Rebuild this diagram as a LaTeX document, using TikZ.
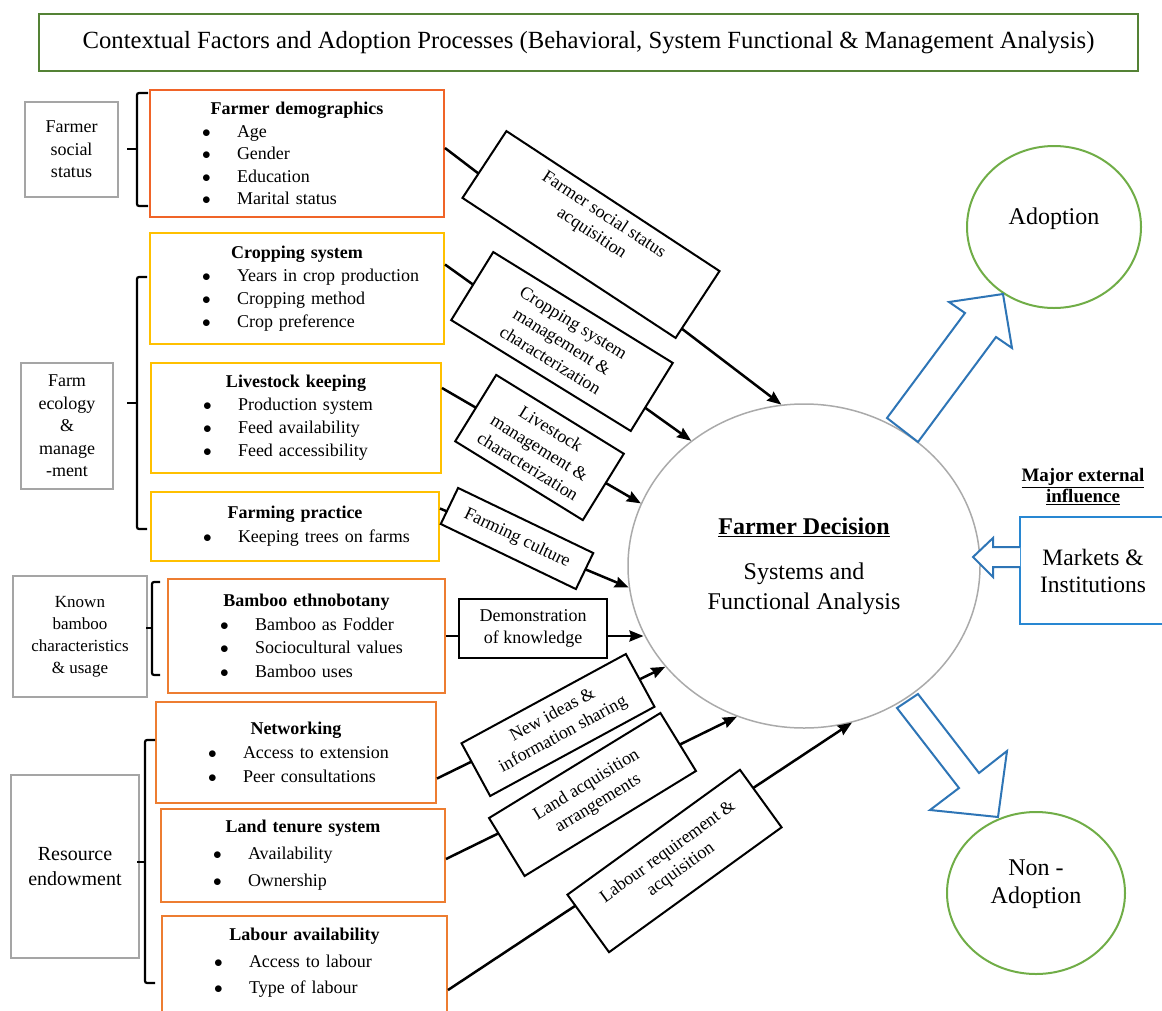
\documentclass[tikz,border=0pt]{standalone}
\usepackage{fontspec}
\setmainfont{Liberation Serif}
\usetikzlibrary{arrows.meta}
\usetikzlibrary{calc}
\usetikzlibrary{shapes.geometric}

\definecolor{titlegreen}{RGB}{84,130,53}
\definecolor{circgreen}{RGB}{112,173,71}
\definecolor{redorange}{RGB}{240,100,40}
\definecolor{boxorange}{RGB}{237,125,49}
\definecolor{boxgold}{RGB}{255,192,0}
\definecolor{catgray}{RGB}{165,165,165}
\definecolor{decgray}{RGB}{170,170,170}
\definecolor{arrowblue}{RGB}{46,117,182}
\definecolor{mktblue}{RGB}{40,135,210}

\newcommand{\ftitle}[1]{{\noindent\centering\bfseries #1\par}}
\newcommand{\fitem}[1]{\noindent\hspace*{52pt}\makebox[35pt][l]{$\bullet$}#1\par}

\begin{document}
\begin{tikzpicture}[x=1pt,y=-1pt,
 cat/.style={draw=catgray, line width=1.5pt, align=center, inner sep=0pt, font=\fontsize{18}{22.5}\selectfont},
 fac/.style={draw=#1, line width=2pt, inner xsep=0pt, inner ysep=6pt, font=\fontsize{18}{22.5}\selectfont},
 lbl/.style={draw, fill=white, line width=2pt, align=center, inner sep=0pt, font=\fontsize{18}{22}\selectfont},
 outc/.style={ellipse, draw=circgreen, line width=2pt, align=center, inner sep=0pt, font=\fontsize{24}{28}\selectfont},
 link/.style={line width=2.5pt, -{Stealth[length=14pt,width=11pt,inset=1.5pt]}},
 hollow/.style={draw=arrowblue, fill=white, line width=2pt, line join=miter},
 brk/.style={line width=2.2pt, rounded corners=2pt}]
\useasboundingbox (0,0) rectangle (1162,1010);
\clip (0,0) rectangle (1162,1010);

\node[draw=titlegreen, line width=2pt, minimum width=1099, minimum height=57, font=\fontsize{24.7}{28}\selectfont] (ttl) at (588.5,42.5) {Contextual Factors and Adoption Processes (Behavioral, System Functional \& Management Analysis)};

\node[cat, minimum width=93, minimum height=95] (fss) at (71.5,149.5) {Farmer\\social\\status};
\node[cat, minimum width=92, minimum height=126] (fem) at (67,426) {Farm\\ecology\\\&\\manage\\-ment};
\node[cat, minimum width=134, minimum height=121, font=\fontsize{17}{22}\selectfont] (kbc) at (80,636.5) {Known\\bamboo\\characteristics\\\& usage};
\node[cat, minimum width=128, minimum height=183, font=\fontsize{20}{25}\selectfont] (res) at (75,866.5) {Resource\\endowment};

\node[fac=redorange, text width=294pt, minimum height=127] (fd) at (297,153.5) {\ftitle{Farmer demographics}\fitem{Age}\fitem{Gender}\fitem{Education}\fitem{Marital status}};
\node[fac=boxgold, text width=294pt, minimum height=111, font=\fontsize{18}{23}\selectfont] (crop) at (297,288.5) {\ftitle{Cropping system}\fitem{Years in crop production}\fitem{Cropping method}\fitem{Crop preference}};
\node[fac=boxgold, text width=290pt, minimum height=110, font=\fontsize{18}{23}\selectfont] (live) at (296,418) {\ftitle{Livestock keeping}\fitem{Production system}\fitem{Feed availability}\fitem{Feed accessibility}};
\node[fac=boxgold, text width=288pt, minimum height=69, font=\fontsize{18}{24}\selectfont] (prac) at (295,526.5) {\ftitle{Farming practice}\fitem{Keeping trees on farms}};
\node[fac=boxorange, text width=277pt, minimum height=114, font=\fontsize{18}{23.5}\selectfont] (bam) at (306.5,636) {\ftitle{Bamboo ethnobotany}\fitem{Bamboo as Fodder}\fitem{Sociocultural values}\fitem{Bamboo uses}};
\node[fac=boxorange, text width=280pt, minimum height=101, font=\fontsize{18}{24}\selectfont] (net) at (296,752.5) {\ftitle{Networking}\fitem{Access to extension}\fitem{Peer consultations}};
\node[fac=boxorange, text width=284pt, minimum height=93, font=\fontsize{18}{27}\selectfont] (land) at (303,855.5) {\ftitle{Land tenure system}\fitem{Availability}\fitem{Ownership}};
\node[fac=boxorange, text width=285pt, anchor=north, inner ysep=12pt, font=\fontsize{18}{26.5}\selectfont] (lab) at (304.5,915) {\ftitle{Labour availability}\fitem{Access to labour}\fitem{Type of labour\rule[-40pt]{0pt}{40pt}}};

\node[ellipse, draw=decgray, line width=1.5pt, minimum width=352, minimum height=324, inner sep=0pt, align=center, font=\fontsize{24}{30}\selectfont] (dec) at (804,566) {\underline{\textbf{Farmer Decision}}\\[15pt]Systems and\\Functional Analysis};
\node[outc, minimum width=174, minimum height=162] (adopt) at (1054,227) {Adoption\\[-6pt]};
\node[outc, minimum width=178, minimum height=162] (nonad) at (1036,893) {Non -\\Adoption\\[-5pt]};
\node[draw=mktblue, line width=2pt, minimum width=146, minimum height=107, align=center, font=\fontsize{23.5}{27}\selectfont] (mkt) at (1093,570.5) {Markets \&\\Institutions};
\node[align=center, font=\fontsize{19}{21}\selectfont\bfseries] (ext) at (1083,487) {\underline{Major external}\\\underline{influence}};

\foreach \x/\t/\b/\m/\a/\n in {137/93/206/149/148/127, 137/277/529/403/147/127, 152/582/675/628/160/146, 145/740/983/862/155/137} {
 \draw[brk] (\a,\t) -- (\x,\t) -- (\x,\b) -- (\a,\b);
 \draw[brk] (\x,\m) -- (\n,\m);
}

\draw[link] ([yshift=5.5pt]fd.east) -- (dec.98);
\draw[link] ([yshift=24pt]crop.east) -- (dec.132);
\draw[link] ([yshift=30pt]live.east) -- (dec.159);
\draw[link] ([yshift=18pt]prac.east) -- (dec.187);
\draw[link] (bam.east) -- (bam.east -| dec.203);
\draw[link] ([yshift=-26pt]net.east) -- (dec.216);
\draw[link] ([yshift=-3.5pt]land.east) -- (dec.246);
\draw[link] ([yshift=-75pt]lab.north east) -- (dec.287);

\node[lbl, rotate=-33.3, minimum width=255, minimum height=80] (l1) at (591,234.5) {Farmer social status\\acquisition\\[6pt]};
\node[lbl, rotate=-31.7, minimum width=211, minimum height=80] (l2) at (562,341.5) {Cropping system\\management \&\\characterization};
\node[lbl, rotate=-31.7, minimum width=150, minimum height=78] (l3) at (539.5,447.5) {Livestock\\management \&\\characterization};
\node[lbl, rotate=-25.7, minimum width=150, minimum height=40] (l4) at (517,538.5) {Farming culture};
\node[lbl, minimum width=148, minimum height=59] (l5) at (533,628.5) {Demonstration\\of knowledge};
\node[lbl, rotate=28.5, minimum width=187, minimum height=60] (l6) at (558,725) {New ideas \&\\information sharing};
\node[lbl, rotate=31.5, minimum width=201, minimum height=68] (l7) at (592.5,794.5) {Land acquisition\\arrangements};
\node[lbl, rotate=35.9, minimum width=213, minimum height=71] (l8) at (674.5,861) {Labour requirement \&\\acquisition};

\draw[hollow] (887,418) -- (965,313) -- (949,302) -- (1003,294) -- (1012,348) -- (996,337) -- (918,442) -- cycle;
\draw[hollow] (897,708) -- (918,694) -- (979,773) -- (1007,751) -- (998,817) -- (930,810) -- (959,788) -- cycle;
\draw[hollow] (1020,547) -- (993,547) -- (993,538) -- (973,557) -- (993,577) -- (993,567) -- (1020,567);
\end{tikzpicture}
\end{document}
